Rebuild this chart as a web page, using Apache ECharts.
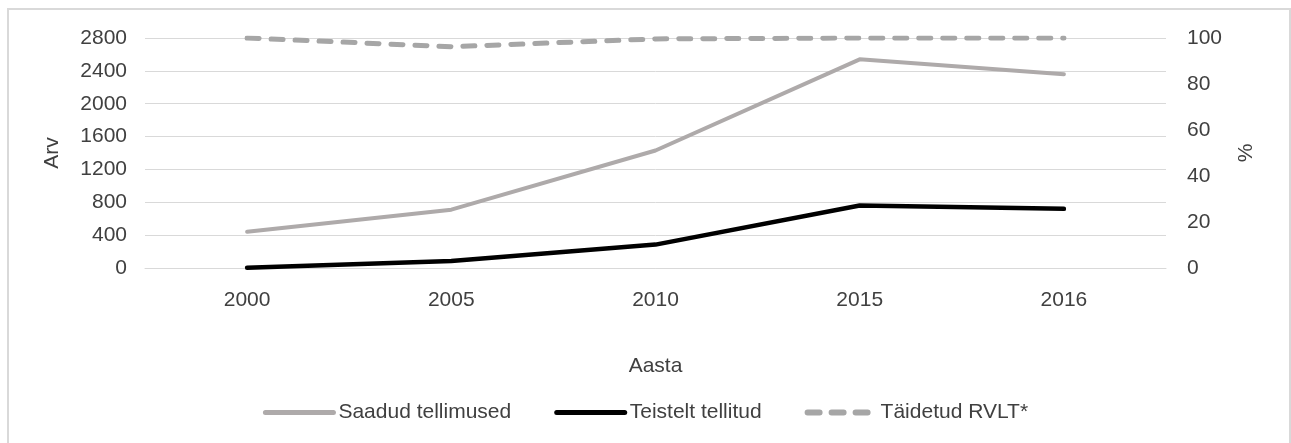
<!DOCTYPE html>
<html>
<head>
<meta charset="utf-8">
<script src="https://cdn.jsdelivr.net/npm/echarts@6/dist/echarts.min.js"></script>
<style>
  html, body { margin: 0; padding: 0; background: #ffffff; }
  #frame { position: absolute; left: 7px; top: 8px; width: 1284px; height: 460px; box-sizing: border-box; border: 2px solid #d9d9d9; }
  #chart { position: absolute; left: 0; top: 0; width: 1291px; height: 443px; }
</style>
</head>
<body>
<div id="frame"></div>
<div id="chart"></div>
<script>
const categories = ['2000', '2005', '2010', '2015', '2016'];
const saadudTellimused = [440, 710, 1430, 2540, 2360];
const teisteltTellitud = [3, 85, 285, 760, 720];
const taidetudRVLT = [100, 96.2, 99.6, 100, 100];
const seriesNames = ['Saadud tellimused', 'Teistelt tellitud', 'Täidetud RVLT*'];

const FONT = 'Liberation Sans';
const TXT = '#404040';

const chart = echarts.init(document.getElementById('chart'), null, { renderer: 'canvas' });
chart.setOption({
  backgroundColor: 'transparent',
  animation: false,
  textStyle: { fontFamily: FONT },
  grid: { left: 145, right: 125, top: 38, bottom: 175, containLabel: false, outerBoundsMode: 'none' },
  legend: {
    bottom: 15,
    left: 'center',
    itemWidth: 68,
    itemHeight: 14,
    itemGap: 43,
    itemStyle: { opacity: 0 },
    textStyle: { fontFamily: FONT, fontSize: 21, color: TXT },
    data: [
      { name: seriesNames[0], lineStyle: { width: 5 } },
      { name: seriesNames[1], lineStyle: { width: 5 } },
      { name: seriesNames[2], lineStyle: { width: 6 } }
    ]
  },
  xAxis: {
    type: 'category',
    data: categories,
    boundaryGap: true,
    name: 'Aasta',
    nameLocation: 'middle',
    nameGap: 88,
    nameTextStyle: { fontFamily: FONT, fontSize: 21, color: TXT },
    axisLine: { show: true, lineStyle: { color: '#d9d9d9', width: 1 } },
    axisTick: { show: false },
    axisLabel: { fontFamily: FONT, fontSize: 21, color: TXT, margin: 22 }
  },
  yAxis: [
    {
      type: 'value',
      min: 0, max: 2800, interval: 400,
      name: 'Arv',
      nameLocation: 'middle',
      nameGap: 82,
      nameTextStyle: { fontFamily: FONT, fontSize: 21, color: TXT },
      axisLine: { show: false },
      axisTick: { show: false },
      axisLabel: { fontFamily: FONT, fontSize: 21, color: TXT, margin: 18, formatter: v => String(v) },
      splitLine: { show: true, lineStyle: { color: '#d9d9d9', width: 1 } }
    },
    {
      type: 'value',
      position: 'right',
      min: 0, max: 100, interval: 20,
      name: '%',
      nameLocation: 'middle',
      nameGap: 70,
      nameTextStyle: { fontFamily: FONT, fontSize: 21, color: TXT },
      axisLine: { show: false },
      axisTick: { show: false },
      axisLabel: { fontFamily: FONT, fontSize: 21, color: TXT, margin: 21, formatter: v => String(v) },
      splitLine: { show: false }
    }
  ],
  series: [
    {
      name: seriesNames[0],
      type: 'line',
      yAxisIndex: 0,
      data: saadudTellimused,
      symbol: 'none',
      color: '#aeaaaa',
      lineStyle: { color: '#aeaaaa', width: 4, cap: 'round', join: 'round' }
    },
    {
      name: seriesNames[1],
      type: 'line',
      yAxisIndex: 0,
      data: teisteltTellitud,
      symbol: 'none',
      color: '#000000',
      lineStyle: { color: '#000000', width: 4.5, cap: 'round', join: 'round' }
    },
    {
      name: seriesNames[2],
      type: 'line',
      yAxisIndex: 1,
      data: taidetudRVLT,
      symbol: 'none',
      color: '#a6a6a6',
      lineStyle: { color: '#a6a6a6', width: 5, type: [12, 12], cap: 'round', join: 'round' }
    }
  ]
});
</script>
</body>
</html>
